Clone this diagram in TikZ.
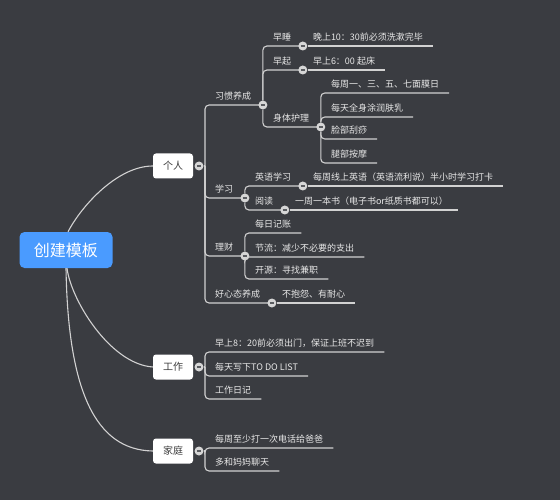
\documentclass[tikz,border=0pt]{standalone}
\usepackage{fontspec}
\setmainfont{Noto Sans CJK SC}
\definecolor{bgcolor}{HTML}{3A3C41}
\definecolor{rootblue}{HTML}{4A9BFF}
\definecolor{linecolor}{HTML}{D2D2D2}
\definecolor{itemtext}{HTML}{E8E8E8}
\definecolor{topictext}{HTML}{3C3C3C}
\definecolor{foldfill}{HTML}{D6D6D6}
\definecolor{foldmark}{HTML}{5A5C60}
\newcommand{\foldsign}{\textcolor{foldmark}{\rule{4.5pt}{1.3pt}}}

\begin{document}
\begin{tikzpicture}[x=1pt,y=-1pt,
  root/.style={fill=rootblue,rounded corners=5pt,text=white,font=\fontsize{16}{18}\selectfont,minimum width=93pt,minimum height=36pt,inner sep=0pt},
  topic/.style={fill=white,rounded corners=3pt,text=topictext,font=\fontsize{10}{12}\selectfont,minimum width=40pt,minimum height=25pt,inner sep=0pt},
  item/.style={anchor=south west,text=itemtext,font=\fontsize{9}{11}\selectfont,inner xsep=10pt,inner ysep=4.5pt,text height=8pt,text depth=1pt},
  fold/.style={circle,fill=foldfill,inner sep=0pt,minimum size=9pt},
  link/.style={linecolor,line width=1.1pt,rounded corners=4pt}]
\path[use as bounding box,fill=bgcolor] (0,0) rectangle (560,500);
\node[root] (root) at (66,250) {创建模板};
\node[topic] (per) at (173,166) {个人};
\node[topic] (work) at (173,367) {工作};
\node[topic] (home) at (173,451) {家庭};
\draw[link] ([xshift=2pt]root.north) .. controls (82,205) and (118,166) .. (per.west);
\draw[link] ([xshift=1pt]root.south) .. controls (71,300) and (110,364) .. (work.west);
\draw[link] (root.south) .. controls (68,390) and (95,450) .. (home.west);
\node[fold] (fp) at (199,166) {\foldsign};
\coordinate (jp) at (205,166);
\draw[link] (fp) -- (jp);
\node[item] (hab) at (205,105) {习惯养成};
\node[item] (stu) at (205,198) {学习};
\node[item] (fin) at (205,256) {理财};
\node[item] (mood) at (205,303) {好心态养成};
\foreach \n in {hab,stu,fin,mood} \draw[link] (jp) |- (\n.south east);
\node[fold] (fhab) at ([xshift=1.5pt]hab.south east) {\foldsign};
\node[item] (sleep) at (fhab |- 0,46) {早睡};
\node[item] (wake) at (fhab |- 0,70) {早起};
\node[item] (body) at (fhab |- 0,127) {身体护理};
\foreach \n in {sleep,wake,body} \draw[link] (fhab) |- (\n.south east);
\node[fold] (fsleep) at ([xshift=1.5pt]sleep.south east) {\foldsign};
\node[fold] (fwake) at ([xshift=1.5pt]wake.south east) {\foldsign};
\node[fold] (fbody) at ([xshift=1.5pt]body.south east) {\foldsign};
\node[item] (sleep1) at (fsleep) {晚上10：30前必须洗漱完毕};
\node[item] (wake1) at (fwake) {早上6：00 起床};
\draw[link] (fsleep) -- (sleep1.south east);
\draw[link] (fwake) -- (wake1.south east);
\node[item] (body1) at (fbody |- 0,93) {每周一、三、五、七面膜日};
\node[item] (body2) at (fbody |- 0,117) {每天全身涂润肤乳};
\node[item] (body3) at (fbody |- 0,139) {脸部刮痧};
\node[item] (body4) at (fbody |- 0,163) {腿部按摩};
\foreach \n in {body1,body2,body3,body4} \draw[link] (fbody) |- (\n.south east);
\node[fold] (fstu) at ([xshift=1.5pt]stu.south east) {\foldsign};
\node[item] (eng) at (fstu |- 0,186) {英语学习};
\node[item] (read) at (fstu |- 0,210) {阅读};
\foreach \n in {eng,read} \draw[link] (fstu) |- (\n.south east);
\node[fold] (feng) at ([xshift=1.5pt]eng.south east) {\foldsign};
\node[fold] (fread) at ([xshift=1.5pt]read.south east) {\foldsign};
\node[item] (eng1) at (feng) {每周线上英语（英语流利说）半小时学习打卡};
\node[item] (read1) at (fread) {一周一本书（电子书or纸质书都可以）};
\draw[link] (feng) -- (eng1.south east);
\draw[link] (fread) -- (read1.south east);
\node[fold] (ffin) at ([xshift=1.5pt]fin.south east) {\foldsign};
\node[item] (fin1) at (ffin |- 0,233) {每日记账};
\node[item] (fin2) at (ffin |- 0,257) {节流：减少不必要的支出};
\node[item] (fin3) at (ffin |- 0,279) {开源：寻找兼职};
\foreach \n in {fin1,fin2,fin3} \draw[link] (ffin) |- (\n.south east);
\node[fold] (fmood) at ([xshift=1.5pt]mood.south east) {\foldsign};
\node[item] (mood1) at (fmood) {不抱怨、有耐心};
\draw[link] (fmood) -- (mood1.south east);
\node[fold] (fw) at (199,367) {\foldsign};
\coordinate (jw) at (205,367);
\draw[link] (fw) -- (jw);
\node[item] (work1) at (205,352) {早上8：20前必须出门，保证上班不迟到};
\node[item] (work2) at (205,376) {每天写下TO DO LIST};
\node[item] (work3) at (205,399) {工作日记};
\foreach \n in {work1,work2,work3} \draw[link] (jw) |- (\n.south east);
\node[fold] (fh) at (199,451) {\foldsign};
\coordinate (jh) at (205,451);
\draw[link] (fh) -- (jh);
\node[item] (home1) at (205,448) {每周至少打一次电话给爸爸};
\node[item] (home2) at (205,471) {多和妈妈聊天};
\foreach \n in {home1,home2} \draw[link] (jh) |- (\n.south east);
\end{tikzpicture}
\end{document}
